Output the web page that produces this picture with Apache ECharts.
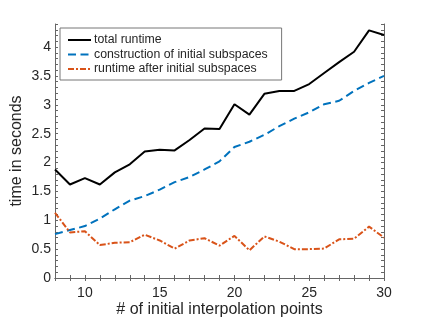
<!DOCTYPE html>
<html>
<head>
<meta charset="utf-8">
<script src="https://cdn.jsdelivr.net/npm/echarts@6/dist/echarts.min.js"></script>
<style>html,body{margin:0;padding:0;background:#fff}#c{width:424px;height:318px}</style>
</head>
<body>
<div id="c"></div>
<script>
var xPoints = [8,9,10,11,12,13,14,15,16,17,18,19,20,21,22,23,24,25,26,27,28,29,30];
var totalRuntime = [1.88,1.62,1.73,1.62,1.83,1.97,2.19,2.22,2.21,2.39,2.59,2.58,3.01,2.83,3.19,3.24,3.24,3.36,3.55,3.74,3.92,4.29,4.21];
var construction = [0.76,0.83,0.90,1.03,1.19,1.34,1.42,1.53,1.66,1.75,1.88,2.02,2.27,2.36,2.48,2.63,2.76,2.87,3.01,3.07,3.24,3.38,3.50];
var afterInitial = [1.13,0.79,0.81,0.57,0.61,0.62,0.75,0.65,0.51,0.65,0.69,0.56,0.73,0.48,0.72,0.63,0.50,0.50,0.51,0.67,0.68,0.89,0.70];
var seriesNames = ['total runtime','construction of initial subspaces','runtime after initial subspaces'];
var xTickLabels = [10,15,20,25,30];
var yTickLabels = [0,0.5,1,1.5,2,2.5,3,3.5,4];

var xMinor = []; for (var i = 8; i <= 30; i++) xMinor.push(i);
var yMinor = []; for (var j = 0; j <= 44; j++) yMinor.push(j / 10);

var textColor = '#262626';
var axisColor = '#666';
var font = '"Liberation Sans", Arial, sans-serif';

function pair(ys) { return xPoints.map(function (x, k) { return [x, ys[k]]; }); }

function xAx(pos, labels) {
  return {
    type: 'value', position: pos, min: 8, max: 30,
    axisLine: { show: true, lineStyle: { color: axisColor, width: 1 } },
    axisTick: { show: true, inside: true, length: 3, customValues: xMinor, lineStyle: { color: axisColor } },
    axisLabel: { show: labels, customValues: xTickLabels, color: textColor, fontSize: 14, fontFamily: font, margin: 8 },
    splitLine: { show: false },
    name: labels ? '# of initial interpolation points' : '',
    nameLocation: 'middle', nameGap: 24, nameMoveOverlap: false,
    nameTextStyle: { color: textColor, fontSize: 16, fontFamily: font }
  };
}
function yAx(pos, labels) {
  return {
    type: 'value', position: pos, min: 0, max: 4.4,
    axisLine: { show: true, lineStyle: { color: axisColor, width: 1 } },
    axisTick: { show: true, inside: true, length: 3, customValues: yMinor, lineStyle: { color: axisColor } },
    axisLabel: { show: labels, customValues: yTickLabels, color: textColor, fontSize: 14, fontFamily: font, margin: 4 },
    splitLine: { show: false },
    name: labels ? 'time in seconds' : '',
    nameLocation: 'middle', nameGap: 30, nameRotate: 90, nameMoveOverlap: false,
    nameTextStyle: { color: textColor, fontSize: 16, fontFamily: font }
  };
}

var chart = echarts.init(document.getElementById('c'), null, { renderer: 'canvas' });
chart.setOption({
  animation: false,
  backgroundColor: '#fff',
  grid: { left: 55, right: 40, top: 24, bottom: 40, containLabel: false, outerBoundsMode: 'none' },
  xAxis: [xAx('bottom', true), xAx('top', false)],
  yAxis: [yAx('left', true), yAx('right', false)],
  legend: {
    left: 60, top: 28, orient: 'vertical',
    backgroundColor: '#fff',
    borderColor: '#777', borderWidth: 1, borderRadius: 0,
    padding: [5, 14, 4, 7], itemGap: 0.5, itemWidth: 23, itemHeight: 14,
    itemStyle: { opacity: 0, borderWidth: 0 },
    textStyle: { color: textColor, fontSize: 12.3, fontFamily: font, padding: [0, 0, 0, -2], lineHeight: 14 },
    data: seriesNames
  },
  series: [
    { name: seriesNames[0], type: 'line', data: pair(totalRuntime), showSymbol: false, symbol: 'none',
      lineStyle: { color: '#000', width: 2 }, itemStyle: { color: '#000' } },
    { name: seriesNames[1], type: 'line', data: pair(construction), showSymbol: false, symbol: 'none',
      lineStyle: { color: '#0072BD', width: 2, type: [8, 4.5] }, itemStyle: { color: '#0072BD' } },
    { name: seriesNames[2], type: 'line', data: pair(afterInitial), showSymbol: false, symbol: 'none',
      lineStyle: { color: '#D95319', width: 2, type: [6, 2, 2, 2] }, itemStyle: { color: '#D95319' } }
  ]
});
</script>
</body>
</html>
